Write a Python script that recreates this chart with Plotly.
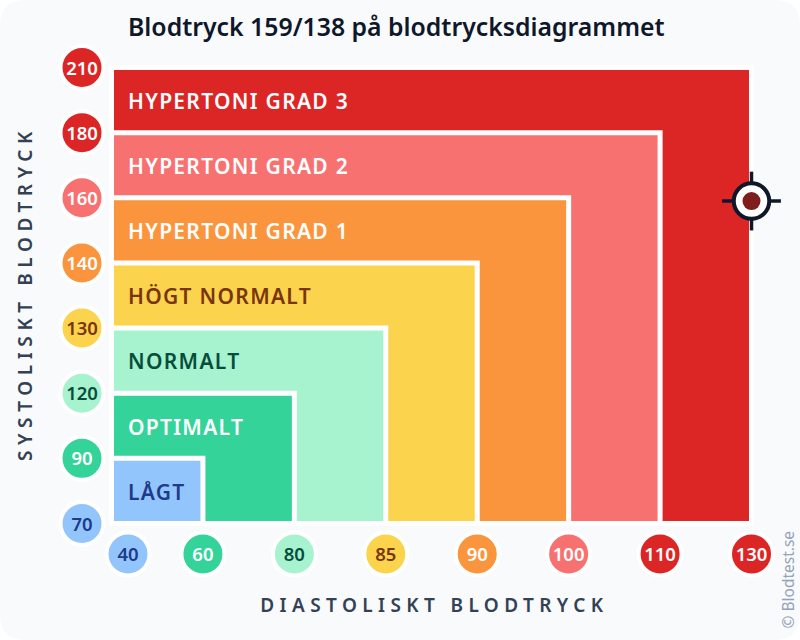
import numpy as np
import plotly.graph_objects as go

title = "Blodtryck 159/138 på blodtrycksdiagrammet"
dia_ticks = [40, 60, 80, 85, 90, 100, 110, 130]
sys_ticks = [70, 90, 120, 130, 140, 160, 180, 210]
categories = ["LÅGT", "OPTIMALT", "NORMALT", "HÖGT NORMALT",
              "HYPERTONI GRAD 1", "HYPERTONI GRAD 2", "HYPERTONI GRAD 3"]
band_colors = ["#93c5fd", "#34d399", "#a7f3d0", "#fcd34d", "#fb953d", "#f87171", "#dc2626"]
text_colors = ["#1e3a8a", "#ffffff", "#064e3b", "#78350f", "#ffffff", "#ffffff", "#ffffff"]
patient_sys, patient_dia = 159, 138

FONT = "Noto Sans"
W, H = 800, 640
L, B, SX, SY = 111.5, 523.5, 91.43, 65.14
INK = "#0f172a"
AXIS = "#334155"
LABEL_NUDGE = 3.5 / SY   # optical centring of text in its band / circle
TICK_NUDGE = 2.5 / SY

def dx(px): return (px - L) / SX
def dy(py): return (B - py) / SY

n = len(dia_ticks)
xi = np.arange(n)
yi = np.arange(n)

fig = go.Figure()

# rounded page background
r = 26
bg = (f"M {dx(r)} {dy(0)} L {dx(W-r)} {dy(0)} Q {dx(W)} {dy(0)} {dx(W)} {dy(r)} "
      f"L {dx(W)} {dy(H-r)} Q {dx(W)} {dy(H)} {dx(W-r)} {dy(H)} "
      f"L {dx(r)} {dy(H)} Q {dx(0)} {dy(H)} {dx(0)} {dy(H-r)} "
      f"L {dx(0)} {dy(r)} Q {dx(0)} {dy(0)} {dx(r)} {dy(0)} Z")
fig.add_shape(type="path", path=bg, fillcolor="#f8fafc", line_width=0, layer="below")

# nested bands, largest first
for i in range(len(categories) - 1, -1, -1):
    fig.add_shape(type="rect", x0=0, y0=0, x1=i + 1, y1=i + 1,
                  fillcolor=band_colors[i], line=dict(color="#ffffff", width=5), layer="below")

label_x = dx(128)
fig.add_trace(go.Scatter(
    x=[label_x] * len(categories), y=[i + 0.5 - LABEL_NUDGE for i in range(len(categories))],
    mode="text", text=categories, textposition="middle right",
    textfont=dict(family=FONT, size=21, color=text_colors, weight=600),
    hoverinfo="skip", showlegend=False))

tick_colors = band_colors + [band_colors[-1]]
tick_text = text_colors + [text_colors[-1]]

dia_x = [label_x] + list(xi[1:])
tick_sets = [
    ([dx(82)] * n, list(yi), sys_ticks),          # systolic column
    (dia_x, [dy(554)] * n, dia_ticks),            # diastolic row, first nudged clear of the column
]
for xs, ys, vals in tick_sets:
    fig.add_trace(go.Scatter(
        x=xs, y=ys, mode="markers",
        marker=dict(size=43, color=tick_colors, line=dict(color="#ffffff", width=4)),
        hoverinfo="skip", showlegend=False, cliponaxis=False))
    fig.add_trace(go.Scatter(
        x=xs, y=[v - TICK_NUDGE for v in ys], mode="text",
        text=[str(v) for v in vals], textposition="middle center",
        textfont=dict(family=FONT, size=18.5, color=tick_text, weight=600),
        hoverinfo="skip", showlegend=False, cliponaxis=False))

# patient marker
px_ = float(np.interp(patient_dia, dia_ticks, xi))
py_ = float(np.interp(patient_sys, sys_ticks, yi))
for sym in ["line-ew", "line-ns"]:
    fig.add_trace(go.Scatter(
        x=[px_], y=[py_], mode="markers",
        marker=dict(symbol=sym, size=42, color=INK, line=dict(color=INK, width=3.5)),
        hoverinfo="skip", showlegend=False, cliponaxis=False))
fig.add_trace(go.Scatter(
    x=[px_], y=[py_], mode="markers",
    marker=dict(size=35.5, color="#ffffff", line=dict(color=INK, width=4)),
    hoverinfo="skip", showlegend=False, cliponaxis=False))
fig.add_trace(go.Scatter(
    x=[px_], y=[py_], mode="markers",
    marker=dict(size=18, color="#7f1d1d"),
    hoverinfo="skip", showlegend=False, cliponaxis=False))

fig.add_annotation(x=dx(396), y=dy(25.5), text=title, showarrow=False,
                   font=dict(family=FONT, size=24.8, color=INK, weight=600), xanchor="center", yanchor="middle")
fig.add_annotation(x=dx(434.5), y=dy(605), text="DIASTOLISKT BLODTRYCK", showarrow=False,
                   font=dict(family=FONT, size=19, color=AXIS, weight=600), xanchor="center", yanchor="middle")
fig.add_annotation(x=dx(24.5), y=dy(293.5), text="SYSTOLISKT BLODTRYCK", showarrow=False, textangle=-90,
                   font=dict(family=FONT, size=19, color=AXIS, weight=600), xanchor="center", yanchor="middle")
fig.add_annotation(x=dx(787), y=dy(579.5), text="© Blodtest.se", showarrow=False, textangle=-90,
                   font=dict(family=FONT, size=15.5, color="#94a3b8"), xanchor="center", yanchor="middle")

fig.update_layout(
    width=W, height=H, margin=dict(l=0, r=0, t=0, b=0),
    paper_bgcolor="#ffffff", plot_bgcolor="rgba(0,0,0,0)",
    xaxis=dict(visible=False, range=[dx(0), dx(W)], fixedrange=True),
    yaxis=dict(visible=False, range=[dy(H), dy(0)], fixedrange=True),
    showlegend=False,
)

post = """
document.body.style.margin='0';
document.querySelectorAll('.annotation-text').forEach(function(t){
  var s=t.textContent;
  if(s.indexOf('DIASTOLISKT')>=0){t.style.letterSpacing='5.4px';}
  if(s.indexOf('SYSTOLISKT')>=0){t.style.letterSpacing='5.6px';}
});
document.querySelectorAll('.textpoint text').forEach(function(t){
  if(/[A-ZÅÖ]{3}/.test(t.textContent)){t.style.letterSpacing='1.3px';}
});
"""
fig.write_html("out.html", config={"displayModeBar": False}, post_script=post)
